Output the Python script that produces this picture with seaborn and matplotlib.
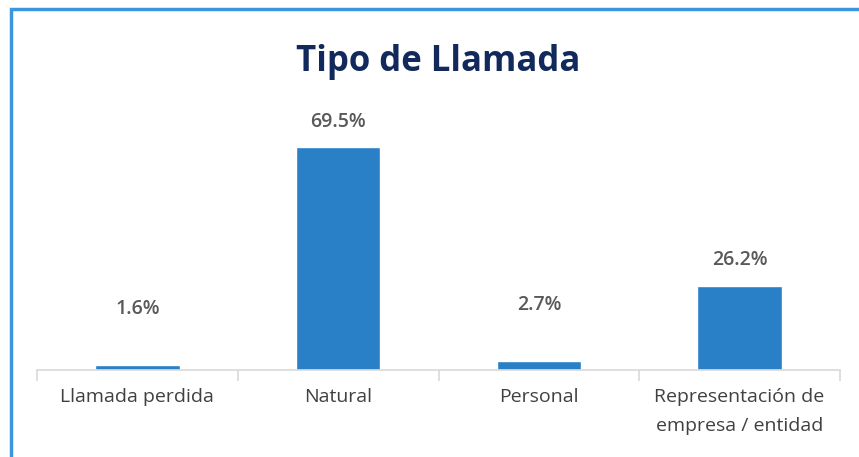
import matplotlib.pyplot as plt
import seaborn as sns
import numpy as np
from matplotlib.patches import Rectangle

# Data
categories = ["Llamada perdida", "Natural", "Personal", "Representación de\nempresa / entidad"]
percentages = [1.6, 69.5, 2.7, 26.2]

sns.set_theme(style="white")
plt.rcParams['font.family'] = ['Open Sans', 'DejaVu Sans']

fig = plt.figure(figsize=(8.59, 4.57), dpi=100)
ax = fig.add_axes([37 / 859, 87 / 457, (840 - 37) / 859, 250 / 457])

sns.barplot(x=categories, y=percentages, color="#2A80C6", width=0.42,
            saturation=1, ax=ax)

ax.set_xlim(-0.5, len(categories) - 0.5)
ax.set_ylim(0, 78)

# value labels above bars (small bars get pushed up, like in the original)
for i, v in enumerate(percentages):
    y = v + 8.0 if v > 10 else v + 17.5
    ax.text(i, y, f"{v:.1f}%", ha="center", va="center", fontsize=14,
            fontweight="semibold", color="#595959")

# axis styling
for side in ["top", "right", "left"]:
    ax.spines[side].set_visible(False)
ax.spines["bottom"].set_color("#D9D9D9")
ax.spines["bottom"].set_linewidth(1.2)
ax.set_yticks([])
ax.set_xticks(range(len(categories)))
ax.set_xticklabels(categories, fontsize=14, color="#404040", linespacing=1.75)
ax.tick_params(axis="x", which="major", length=0, pad=13)
ax.set_xticks(np.arange(-0.5, len(categories), 1), minor=True)
ax.tick_params(axis="x", which="minor", length=8, width=1.2, color="#D9D9D9",
               direction="out", bottom=True)
ax.set_xlabel("")
ax.set_ylabel("")

fig.text(438 / 859, 1 - 62 / 457, "Tipo de Llamada", ha="center", va="center",
         fontsize=25, fontweight="bold", color="#12295C")

# chart frame (blue border, clipped on right/bottom)
fig.add_artist(Rectangle((10.5 / 859, -0.1), 1.2, 1 - 9 / 457 + 0.1,
                         transform=fig.transFigure, fill=False,
                         edgecolor="#3C96DD", linewidth=2.5, clip_on=False))

fig.savefig("out.png", dpi=100)
